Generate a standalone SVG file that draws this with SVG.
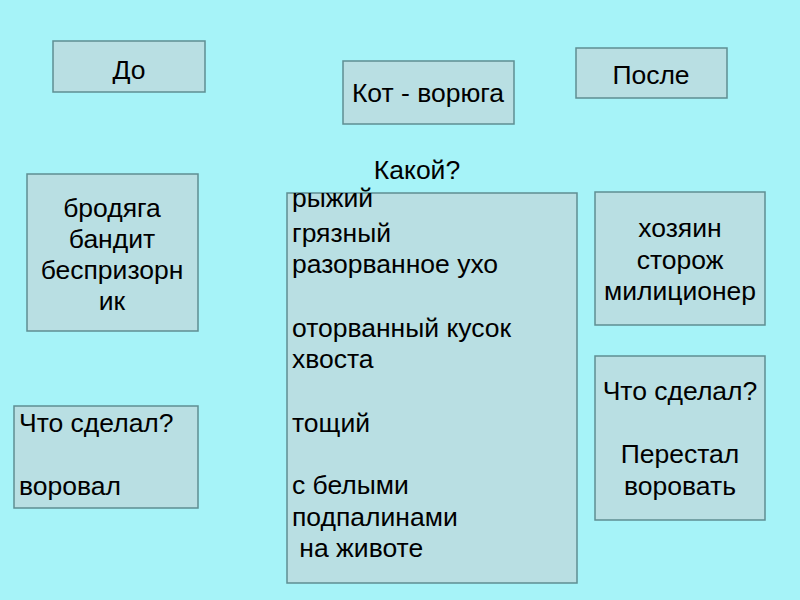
<svg xmlns="http://www.w3.org/2000/svg" width="800" height="600" viewBox="0 0 800 600">
<style>
.box{fill:#B9DFE3;stroke:#5F8E92;stroke-width:1.5}
text{font-family:"Liberation Sans",Arial,sans-serif;font-size:26.5px;fill:#000}
.c{text-anchor:middle}
</style>
<rect width="800" height="600" fill="#A6F3F8"/>
<g id="do"><rect class="box" x="53" y="41" width="152" height="51"/><text class="c" x="129" y="79">До</text></g>
<g id="kot"><rect class="box" x="343" y="61" width="171" height="63"/><text class="c" x="428" y="102">Кот - ворюга</text></g>
<g id="posle"><rect class="box" x="576" y="48" width="151" height="50"/><text class="c" x="651" y="84">После</text></g>
<g id="kakoy"><text class="c" x="417" y="179">Какой?</text></g>
<g id="brodyaga"><rect class="box" x="27" y="174" width="171" height="157"/>
<text class="c" x="112" y="217">бродяга</text><text class="c" x="112" y="248">бандит</text><text class="c" x="112" y="279">беспризорн</text><text class="c" x="112" y="310">ик</text></g>
<g id="main"><rect class="box" x="287" y="193" width="290" height="390"/>
<text x="292" y="207">рыжий</text><text x="292" y="242">грязный</text><text x="292" y="273">разорванное ухо</text>
<text x="292" y="337">оторванный кусок</text><text x="292" y="368">хвоста</text>
<text x="292" y="432">тощий</text>
<text x="292" y="494">с белыми</text><text x="292" y="526">подпалинами</text><text x="292" y="557" xml:space="preserve"> на животе</text></g>
<g id="khozyain"><rect class="box" x="595" y="192" width="170" height="133"/>
<text class="c" x="680" y="237">хозяин</text><text class="c" x="680" y="269">сторож</text><text class="c" x="680" y="300">милиционер</text></g>
<g id="left-did"><rect class="box" x="14" y="406" width="184" height="102"/>
<text x="19" y="432">Что сделал?</text><text x="19" y="495">воровал</text></g>
<g id="right-did"><rect class="box" x="595" y="356" width="170" height="164"/>
<text class="c" x="680" y="400">Что сделал?</text><text class="c" x="680" y="463">Перестал</text><text class="c" x="680" y="495">воровать</text></g>
<g id="connectors"/>
</svg>
